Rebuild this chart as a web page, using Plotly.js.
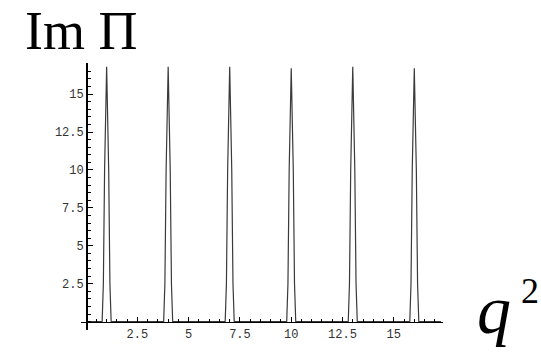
<!DOCTYPE html>
<html>
<head>
<meta charset="utf-8">
<script src="https://cdn.plot.ly/plotly-3.0.1.min.js"></script>
<style>html,body{margin:0;padding:0;background:#fff;}#chart{width:541px;height:354px;}</style>
</head>
<body>
<div id="chart"></div>
<script>
// Curve samples (q^2, Im Pi): six narrow peaks at q^2 = 1, 4, 7, 10, 13, 16
var q2 = [0, 0.78, 0.84, 0.9, 1, 1.1, 1.16, 1.22,
          3.78, 3.84, 3.9, 4, 4.1, 4.16, 4.22,
          6.78, 6.84, 6.9, 7, 7.1, 7.16, 7.22,
          9.78, 9.84, 9.9, 10, 10.1, 10.16, 10.22,
          12.78, 12.84, 12.9, 13, 13.1, 13.16, 13.22,
          15.78, 15.84, 15.9, 16, 16.1, 16.16, 16.22, 17.3];
var imPi = [0, 0, 2.5, 10, 16.8, 10, 2.5, 0,
            0, 2.5, 10, 16.8, 10, 2.5, 0,
            0, 2.5, 10, 16.8, 10, 2.5, 0,
            0, 2.5, 10, 16.7, 10, 2.5, 0,
            0, 2.5, 10, 16.8, 10, 2.5, 0,
            0, 2.5, 10, 16.7, 10, 2.5, 0, 0];
var xTickVals = [2.5, 5, 7.5, 10, 12.5, 15];
var xTickText = ["2.5", "5", "7.5", "10", "12.5", "15"];
var yTickVals = [2.5, 5, 7.5, 10, 12.5, 15];
var yTickText = ["2.5", "5", "7.5", "10", "12.5", "15"];

var xr = [-0.25, 17.4];
var yr = [-0.55, 17.05];

var trace = {
  x: q2, y: imPi, type: 'scatter', mode: 'lines',
  line: {color: '#3a3a3a', width: 1.2},
  hoverinfo: 'skip'
};

var tickFont = {family: '"Liberation Mono", "DejaVu Sans Mono", monospace', size: 12, color: '#333'};

var layout = {
  width: 541, height: 354,
  margin: {l: 81, r: 98, t: 63, b: 24, pad: 0},
  paper_bgcolor: '#fff', plot_bgcolor: '#fff',
  showlegend: false,
  xaxis: {
    range: xr, anchor: 'free', position: (0 - yr[0]) / (yr[1] - yr[0]),
    showgrid: false, zeroline: false,
    showline: true, linecolor: '#000', linewidth: 1.5,
    ticks: 'inside', ticklen: 5, tickwidth: 1, tickcolor: '#000',
    tickvals: xTickVals, ticktext: xTickText, tickfont: tickFont,
    minor: {dtick: 0.5, tick0: 0, ticks: 'inside', ticklen: 3, tickcolor: '#000', tickwidth: 1, showgrid: false}
  },
  yaxis: {
    range: yr, anchor: 'free', position: (0 - xr[0]) / (xr[1] - xr[0]),
    showgrid: false, zeroline: false,
    showline: true, linecolor: '#000', linewidth: 1.5,
    ticks: 'inside', ticklen: 5, tickwidth: 1, tickcolor: '#000',
    tickvals: yTickVals, ticktext: yTickText, tickfont: tickFont,
    minor: {dtick: 0.5, tick0: 0, ticks: 'inside', ticklen: 3, tickcolor: '#000', tickwidth: 1, showgrid: false}
  },
  annotations: [
    {text: 'Im \u03A0', xref: 'paper', yref: 'paper', x: -0.16, y: 1.118,
     xanchor: 'left', yanchor: 'middle', showarrow: false,
     font: {family: '"Liberation Serif", "DejaVu Serif", serif', size: 54, color: '#000'}},
    {text: '<i>q</i>', xref: 'paper', yref: 'paper', x: 1.141, y: 0.075,
     xanchor: 'center', yanchor: 'middle', showarrow: false,
     font: {family: '"Liberation Serif", "DejaVu Serif", serif', size: 68, color: '#000'}},
    {text: '2', xref: 'paper', yref: 'paper', x: 1.24, y: 0.145,
     xanchor: 'center', yanchor: 'middle', showarrow: false,
     font: {family: '"Liberation Serif", "DejaVu Serif", serif', size: 36, color: '#000'}}
  ]
};

Plotly.newPlot('chart', [trace], layout, {displayModeBar: false, staticPlot: true});
</script>
</body>
</html>
